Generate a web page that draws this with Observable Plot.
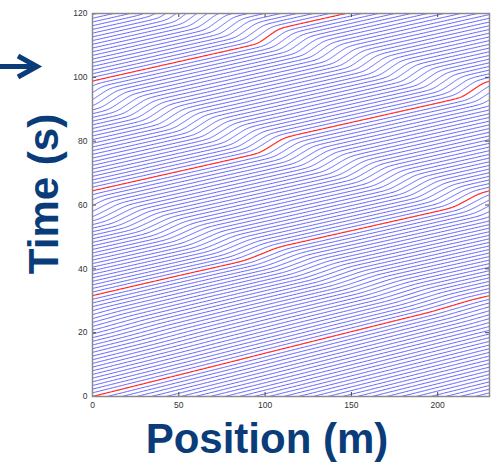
<!DOCTYPE html>
<html><head><meta charset="utf-8">
<script src="https://cdn.jsdelivr.net/npm/d3@7"></script>
<script src="https://cdn.jsdelivr.net/npm/@observablehq/plot@0.6"></script>
<style>
html,body{margin:0;padding:0;background:#fff;}
#wrap{position:relative;width:497px;height:463px;overflow:hidden;}
#arrow{position:absolute;left:0;top:0;}
</style></head><body>
<div id="wrap"><div id="chart"></div>
<svg id="arrow" width="45" height="90"><path d="M0 66.5 H36 M18 56 L37 66.5 L18 77" stroke="#0b3c7a" stroke-width="5" fill="none"/></svg>
</div>
<script>
// ---- data ----
const ringLength = 230;          // m, x axis extent
const vehicleCount = 27;         // lines crossing x=0 per lap
const xTicks = [0, 50, 100, 150, 200];
const yTicks = [0, 20, 40, 60, 80, 100, 120];
// centre of the stop-and-go wave (where the red trajectory kinks): time (s), unwrapped position (m)
const waveTimes = [26, 43, 60, 78, 95, 112];
const wavePositions = [221, 108, -4, -122, -232, -352];
// speed reduction inside the wave over time
const strengthTimes = [0, 15, 26, 35, 45, 60, 80, 100, 120];
const strengthValues = [0, 0.02, 0.15, 0.3, 0.45, 0.58, 0.65, 0.68, 0.7];
// speed outside the wave (m/s)
const speedTimes = [0, 22, 40, 120];
const speedValues = [7.4, 7.4, 8.2, 8.25];
const jamHalfWidth = 25, jamEdge = 8;

// ---- trajectories ----
const waveX = d3.scaleLinear().domain(waveTimes).range(wavePositions);
const strength = d3.scaleLinear().domain(strengthTimes).range(strengthValues).clamp(true);
const vfree = d3.scaleLinear().domain(speedTimes).range(speedValues).clamp(true);
const jamShape = d => 0.5 * (Math.tanh((d + jamHalfWidth) / jamEdge) - Math.tanh((d - jamHalfWidth) / jamEdge));
const wrapSigned = d => { d = ((d % ringLength) + ringLength) % ringLength; return d > ringLength / 2 ? d - ringLength : d; };

const rows = [];
const dt = 0.02, tEnd = 121;
for (let i = 0; i < vehicleCount; i++) {
  let x = i * ringLength / vehicleCount;
  let lap = 0;
  const red = i === 0;
  let seg = i + "-" + lap;
  rows.push({x, t: 0, seg, red});
  const steps = Math.round(tEnd / dt);
  for (let s = 1; s <= steps; s++) {
    const t0 = (s - 1) * dt;
    const v = vfree(t0) * (1 - strength(t0) * jamShape(wrapSigned(x - waveX(t0))));
    const xn = x + v * dt;
    const lapN = Math.floor(xn / ringLength);
    if (lapN !== lap) {
      const tc = t0 + (lapN * ringLength - x) / v;
      rows.push({x: ringLength, t: tc, seg, red});
      lap = lapN; seg = i + "-" + lap;
      rows.push({x: 0, t: tc, seg, red});
    }
    x = xn;
    if (s % 5 === 0) rows.push({x: x - lap * ringLength, t: s * dt, seg, red});
  }
}
const blueRows = rows.filter(d => !d.red);
const redRows = rows.filter(d => d.red);

const navy = "#0b3c7a";
const chart = Plot.plot({
  width: 497, height: 463,
  marginLeft: 92, marginRight: 8, marginTop: 13, marginBottom: 67,
  style: {fontFamily: "'Liberation Sans', Arial, Helvetica, sans-serif", fontSize: "8.5px", background: "#fff"},
  x: {domain: [0, ringLength]},
  y: {domain: [0, 120]},
  marks: [
    Plot.line(blueRows, {x: "x", y: "t", z: "seg", stroke: "#4646ff", strokeWidth: 0.85, clip: true}),
    Plot.line(redRows, {x: "x", y: "t", z: "seg", stroke: "#ff2b2b", strokeWidth: 1.2, clip: true}),
    Plot.ruleX(xTicks, {x: d => d, y1: 0, y2: 1.25, stroke: "#444"}),
    Plot.ruleX(xTicks, {x: d => d, y1: 118.75, y2: 120, stroke: "#444"}),
    Plot.ruleY(yTicks, {y: d => d, x1: 0, x2: 2.3, stroke: "#444"}),
    Plot.ruleY(yTicks, {y: d => d, x1: ringLength - 2.3, x2: ringLength, stroke: "#444"}),
    Plot.frame({stroke: "#8a8a8a", strokeWidth: 1.5}),
    Plot.axisX({ticks: xTicks, tickSize: 0, tickPadding: 5, label: null, fill: "#333"}),
    Plot.axisY({ticks: yTicks, tickSize: 0, tickPadding: 5, label: null, fill: "#333"}),
    Plot.text(["Position (m)"], {text: d => d, frameAnchor: "bottom", textAnchor: "middle", lineAnchor: "middle", dx: -24, dy: 43, fontSize: 42, fontWeight: "bold", fill: navy}),
    Plot.text(["Time (s)"], {text: d => d, frameAnchor: "left", textAnchor: "middle", lineAnchor: "middle", rotate: -90, dx: -48, dy: -11, fontSize: 42, fontWeight: "bold", fill: navy})
  ]
});
document.getElementById("chart").appendChild(chart);
</script>
</body></html>
